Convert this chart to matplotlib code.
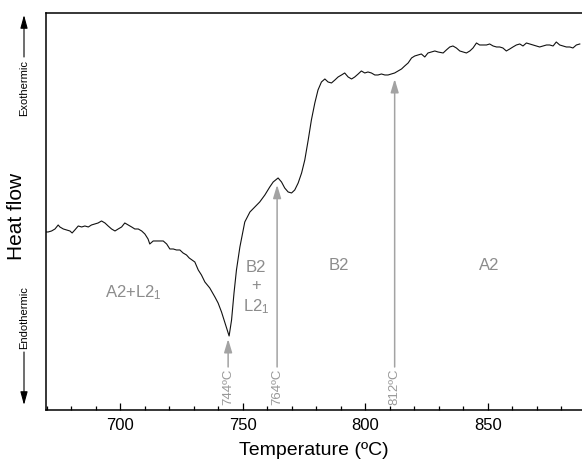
import matplotlib

matplotlib.use("Agg")
import matplotlib.pyplot as plt
import numpy as np
from matplotlib.ticker import MultipleLocator

# DSC trace (temperature in ºC, heat flow in arbitrary units)
TEMP_C = [
    669.2, 670.5, 671.9, 673.3, 674.6, 675.3, 676.7, 678.0, 679.4, 680.3,
    681.4, 682.8, 684.2, 685.5, 686.9, 688.2, 689.6, 690.9, 692.3, 693.7,
    695.0, 696.4, 697.8, 699.1, 700.5, 701.8, 703.2, 704.6, 705.9, 707.3,
    708.7, 710.0, 711.3, 712.0, 713.4, 715.4, 717.5, 718.9, 720.2, 721.6,
    722.9, 724.3, 725.6, 727.0, 728.1,
    730.4, 731.8, 733.1, 734.5, 736.5, 738.6, 739.9, 741.3, 742.7, 744.0,
    744.4, 745.4, 746.4, 747.4, 748.8, 750.8, 752.9, 754.9, 756.9, 759.0,
    761.0, 762.4, 764.4, 765.8, 767.1, 768.5, 769.9, 771.2, 772.6, 774.0,
    775.3,
    776.7, 778.0, 779.4, 780.7, 782.1, 783.5, 784.8, 786.2, 787.6, 788.9,
    790.3, 791.6, 793.0, 794.4, 795.7, 797.1, 798.4, 799.8, 801.1, 802.5,
    803.9, 805.2, 806.6, 808.0, 809.3, 810.7, 812.0, 813.4, 814.8, 816.1,
    817.5, 818.9, 820.2, 821.6, 822.9, 824.3, 825.6, 827.0, 828.4, 829.7,
    831.8, 833.1, 834.5, 835.8, 837.2, 838.6, 839.9, 841.3, 842.7, 844.0,
    845.4, 846.7, 848.1, 849.5, 850.8, 852.2, 853.6, 854.9, 856.2, 857.6,
    859.0, 860.3, 861.7, 863.1, 864.4, 865.8, 867.1, 868.5, 869.9, 871.2,
    872.6, 874.0, 875.3, 876.7, 878.0, 879.4, 880.7, 882.1, 883.5, 884.8,
    886.2, 887.6,
]
HEAT_FLOW = [
    17.8, 17.8, 17.9, 18.1, 18.5, 18.3, 18.1, 18.0, 17.9, 17.7,
    18.0, 18.4, 18.3, 18.4, 18.3, 18.5, 18.6, 18.7, 18.9, 18.7,
    18.4, 18.1, 17.9, 18.1, 18.3, 18.7, 18.5, 18.3, 18.1, 18.1,
    17.9, 17.6, 17.1, 16.6, 16.9, 16.9, 16.9, 16.6, 16.1, 16.1,
    16.0, 16.0, 15.7, 15.5, 15.2,
    14.8, 14.0, 13.5, 12.8, 12.2, 11.3, 10.7, 9.8, 8.7, 7.7,
    7.4, 9.0, 11.7, 14.0, 16.3, 18.8, 19.8, 20.3, 20.8, 21.5,
    22.3, 22.8, 23.2, 22.8, 22.2, 21.8, 21.7, 22.0, 22.7, 23.7,
    25.0,
    27.0, 29.0, 30.7, 32.0, 32.8, 33.1, 32.8, 32.7, 33.0, 33.3,
    33.5, 33.7, 33.3, 33.1, 33.3, 33.6, 33.9, 33.7, 33.8, 33.7,
    33.5, 33.5, 33.6, 33.5, 33.5, 33.6, 33.7, 33.9, 34.1, 34.4,
    34.7, 35.2, 35.4, 35.5, 35.6, 35.3, 35.7, 35.8, 35.9, 35.8,
    35.7, 36.0, 36.3, 36.4, 36.2, 35.9, 35.8, 35.7, 35.9, 36.2,
    36.7, 36.5, 36.5, 36.5, 36.6, 36.4, 36.3, 36.3, 36.2, 35.9,
    36.1, 36.3, 36.5, 36.6, 36.4, 36.7, 36.6, 36.5, 36.4, 36.3,
    36.4, 36.5, 36.5, 36.4, 36.8, 36.5, 36.4, 36.3, 36.3, 36.2,
    36.5, 36.6,
]

TRANSITION_C = [744, 764, 812]
TRANSITION_LABELS = ["744ºC", "764ºC", "812ºC"]

PHASE_LABELS = ["A2+L2$_1$", "B2\n+\nL2$_1$", "B2", "A2"]
PHASE_X = [705.1, 755.3, 789.2, 850.8]
PHASE_Y = [11.7, 12.2, 14.4, 14.4]

GREY_TEXT = "#8c8c8c"
GREY_ARROW = "#a3a3a3"


def main() -> int:
    plt.rcParams["font.family"] = ["Liberation Sans", "DejaVu Sans"]
    plt.rcParams["mathtext.fontset"] = "custom"
    plt.rcParams["mathtext.rm"] = "Liberation Sans"
    plt.rcParams["mathtext.it"] = "Liberation Sans:italic"

    fig = plt.figure(figsize=(5.82, 4.62), dpi=100)
    ax = fig.add_axes([0.0785, 0.1126, 0.9215, 0.8593])

    ax.plot(TEMP_C, HEAT_FLOW, color="#111111", linewidth=0.8)
    ax.set_xlim(669.5, 888.5)
    ax.set_ylim(0, 39.7)

    ax.spines["right"].set_visible(False)
    for side in ("left", "bottom", "top"):
        ax.spines[side].set_linewidth(1.1)
    ax.set_yticks([])
    ax.xaxis.set_major_locator(MultipleLocator(50))
    ax.xaxis.set_minor_locator(MultipleLocator(10))
    ax.tick_params(axis="x", which="major", direction="in", length=5, width=0.9,
                   labelsize=12, pad=6)
    ax.tick_params(axis="x", which="minor", direction="in", length=3, width=0.9)
    ax.set_xlabel("Temperature (ºC)", fontsize=14, labelpad=6)

    # transition markers: grey arrow pointing at the trace, rotated label below
    for t, lab in zip(TRANSITION_C, TRANSITION_LABELS):
        tip = np.interp(t, TEMP_C, HEAT_FLOW) - 0.6
        ax.annotate("", xy=(t, tip), xytext=(t, 4.3),
                    arrowprops=dict(arrowstyle="-|>,head_length=0.8,head_width=0.24",
                                    color=GREY_ARROW, lw=1.1, shrinkA=0, shrinkB=0))
        ax.text(t, 4.1, lab, rotation=90, ha="center", va="top",
                fontsize=9.5, color="#999999")

    for lab, x, y in zip(PHASE_LABELS, PHASE_X, PHASE_Y):
        ax.text(x, y, lab, ha="center", va="center", multialignment="center",
                linespacing=1.3, fontsize=12, color=GREY_TEXT)

    # y-axis: heat flow with exo/endo direction arrows
    W, H = 582, 462
    fig.text(17 / W, 1 - 216 / H, "Heat flow", rotation=90, ha="center",
             va="center", fontsize=15)
    fig.text(24 / W, 1 - 88 / H, "Exothermic", rotation=90, ha="center",
             va="center", fontsize=8)
    fig.text(24 / W, 1 - 318 / H, "Endothermic", rotation=90, ha="center",
             va="center", fontsize=8)
    arrow = dict(arrowstyle="-|>,head_length=0.8,head_width=0.22", color="black",
                 lw=0.8, shrinkA=0, shrinkB=0)
    fig.add_artist(plt.Annotation("", xy=(24, H - 15), xytext=(24, H - 57),
                                  xycoords="figure pixels", arrowprops=arrow))
    fig.add_artist(plt.Annotation("", xy=(24, H - 405), xytext=(24, H - 352),
                                  xycoords="figure pixels", arrowprops=arrow))

    fig.savefig("out.png", dpi=100)
    plt.close(fig)
    return 0


if __name__ == "__main__":
    raise SystemExit(main())
